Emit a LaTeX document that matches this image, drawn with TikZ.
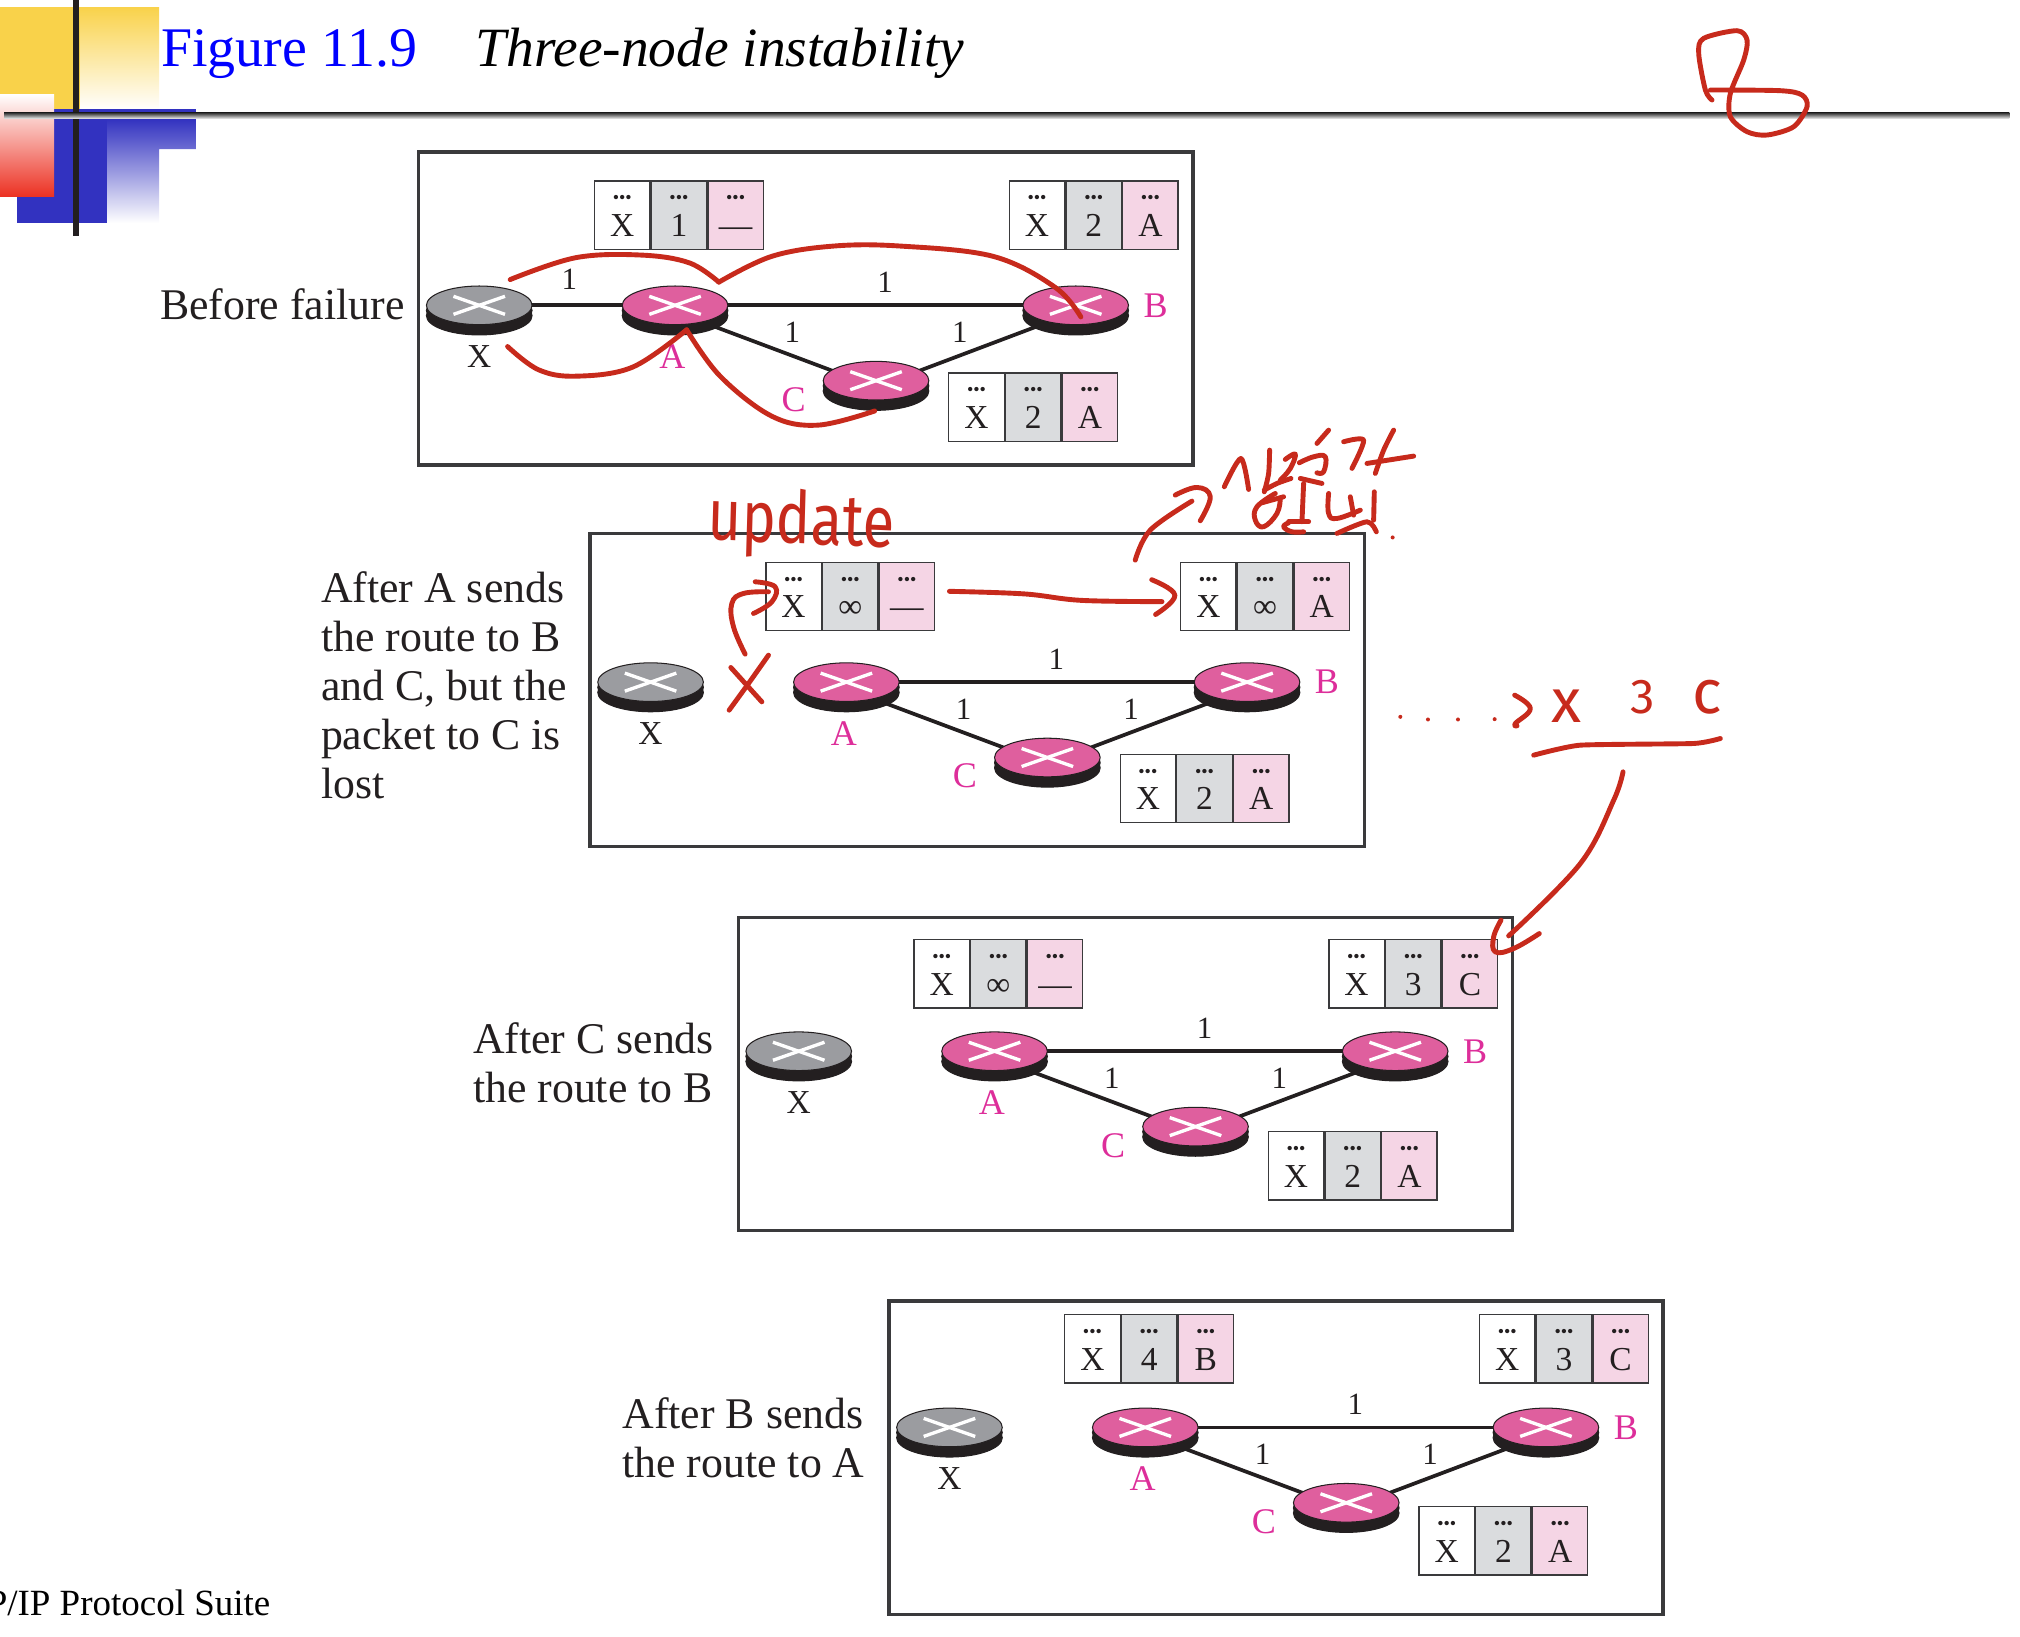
\documentclass[tikz,border=0pt]{standalone}
\usepackage{fontspec}
\setmainfont{Liberation Serif}
\newfontfamily\handfont{Fira Sans}
\usetikzlibrary{positioning, calc, shapes.geometric, shadows, backgrounds}
\definecolor{fig-blue}{HTML}{0000FF}
\definecolor{fig-dark}{HTML}{231F20}
\definecolor{fig-line}{HTML}{3A3A3C}
\definecolor{fig-pink}{HTML}{DF5F9E}
\definecolor{fig-magenta}{HTML}{DD2E9A}
\definecolor{fig-gray}{HTML}{9B9CA0}
\definecolor{cell-gray}{HTML}{DADCDE}
\definecolor{cell-pink}{HTML}{F5D5E5}
\definecolor{deco-yellow}{HTML}{F9D24A}
\definecolor{deco-blue}{HTML}{3232C0}
\definecolor{deco-red}{HTML}{EC3223}
\definecolor{pen-red}{HTML}{C72A1C}
% one routing table: name, x, y, cost, next hop
\newcommand{\rtable}[5]{%
    \node[cell, fill=white, anchor=north west] (#1-dest) at (#2, #3) {X};
    \node[cell, fill=cell-gray, right=0pt of #1-dest] (#1-cost) {#4};
    \node[cell, fill=cell-pink, right=0pt of #1-cost] (#1-hop) {#5};
}

\begin{document}
\begin{tikzpicture}[
    x=1pt, y=-1pt,
    panel/.style={draw=fig-line, line width=2.6, minimum width=601, minimum height=243, anchor=north west},
    router/.style={ellipse, draw=fig-dark, line width=0.8, minimum width=82, minimum height=30, inner sep=0,
                   general shadow={shadow xshift=0pt, shadow yshift=-8pt, fill=fig-dark, draw=fig-dark},
                   general shadow={shadow xshift=0pt, shadow yshift=-4pt, fill=fig-dark, draw=fig-dark},
                   path picture={
                       \draw[white, line width=2.6] (path picture bounding box.center) ++(-20,-7) -- ++(40,14);
                       \draw[white, line width=2.6] (path picture bounding box.center) ++(-20,7) -- ++(40,-14);
                   }},
    link/.style={draw=fig-dark, line width=2.9},
    cell/.style={draw=fig-line, line width=1, minimum width=43, minimum height=53, inner sep=0,
                 text height=43, text depth=10, text=fig-dark, font=\fontsize{26}{30}\selectfont,
                 label={[celldots]north:•••}},
    celldots/.style={anchor=center, yshift=-15, inner sep=0, text=fig-dark, font=\fontsize{14}{14}\selectfont},
    lbl/.style={text=fig-dark, inner sep=0, font=\fontsize{26}{30}\selectfont},
    cost/.style={text=fig-dark, inner sep=0, font=\fontsize{24}{28}\selectfont},
    rname/.style={text=fig-magenta, inner sep=0, font=\fontsize{28}{30}\selectfont},
    caption/.style={anchor=west, align=left, inner sep=0, text=fig-dark, font=\fontsize{34}{38}\selectfont},
    hand/.style={draw=pen-red, line width=3.8, line cap=round, line join=round},
    handtext/.style={text=pen-red, inner sep=0, font=\handfont},
]
    \useasboundingbox (0,0) rectangle (1568,1270);

    % Corner decoration and rule
    \begin{scope}[scale=0.7764]
        \fill[deco-yellow] (0,7) rectangle (80,110);
        \shade[top color=deco-yellow, bottom color=white] (80,7) rectangle (159,110);
        \fill[deco-blue] (17,109) rectangle (107,223);
        \fill[deco-blue] (54,109) rectangle (196,119);
        \shade[top color=deco-blue, bottom color=white] (107,119) -- (196,119) -- (196,149)
            -- (159,149) -- (159,223) -- (107,223) -- cycle;
        \shade[top color=white, bottom color=deco-red] (0,94) rectangle (54,196);
        \fill[fig-dark] (72.5,0) rectangle (79,236);
        \fill[white] (4,115) rectangle (196,119);
        \shade[top color=black!90, bottom color=black!15] (4,112) rectangle (2009,118);
    \end{scope}

    % Title
    \node[anchor=base west, inner sep=0, text=fig-blue, font=\fontsize{43.4}{46}\selectfont] (fignum) at (125,52) {Figure 11.9};
    \node[anchor=base west, inner sep=0, text=black, font=\fontsize{43}{46}\selectfont\itshape] (figname) at (369,52) {Three-node instability};

    % Captions
    \node[caption] (capa) at (124,236) {Before failure};
    \node[caption] (capb) at (249,532) {After A sends\\the route to B\\and C, but the\\packet to C is\\lost};
    \node[caption] (capc) at (367,825) {After C sends\\the route to B};
    \node[caption] (capd) at (483,1116) {After B sends\\the route to A};
    \node[anchor=base east, inner sep=0, text=black, font=\fontsize{28.7}{30}\selectfont] (footer) at (210,1254) {P/IP Protocol Suite};

    % The four networks
    \foreach \pn/\px/\py/\ry/\ty/\ca/\ha/\cb/\hb in {
        one/324/117/120/23/1/—/2/A,
        two/457/413/116.5/23/∞/—/∞/A,
        three/572/711/105/18/∞/—/3/C,
        four/689/1009/99/11/4/B/3/C} {
        \begin{scope}[shift={(\px,\py)}, name prefix=\pn-]
            \node[panel] (box) at (-0.3,-0.3) {};

            % Routers
            \node[router, fill=fig-gray] (X) at (48,\ry) {};
            \node[router, fill=fig-pink] (A) at (200,\ry) {};
            \node[router, fill=fig-pink] (B) at (511,\ry) {};
            \node[router, fill=fig-pink] (C) at (356,\ry+58.5) {};

            % Router names
            \node[lbl] (Xname) at (48,\ry+40) {X};
            \node[rname] (Aname) at (198,\ry+40) {A};
            \node[rname] (Bname) at (573,\ry) {B};
            \node[rname] (Cname) at (292,\ry+73) {C};

            % Links
            \begin{scope}[on background layer]
                \draw[link] (A.center) -- (B.center);
                \draw[link] ([yshift=-5pt]A.center) -- ([yshift=-5pt]C.center);
                \draw[link] ([yshift=-5pt]C.center) -- ([yshift=-5pt]B.center);
            \end{scope}
            \node[cost] (ab) at (363,\ry-18) {1};
            \node[cost] (ac) at (291,\ry+21) {1};
            \node[cost] (cb) at (421,\ry+21) {1};

            % Tables
            \rtable{ta}{137}{\ty}{\ca}{\ha}
            \rtable{tb}{459}{\ty}{\cb}{\hb}
            \rtable{tc}{412}{\ty+149}{2}{A}
        \end{scope}
    }

    % Link to X exists only before the failure
    \begin{scope}[on background layer]
        \draw[link] (one-X.center) -- (one-A.center);
    \end{scope}
    \node[cost] (xa) at (442,217) {1};

    % Pen marks on the first network
    \draw[hand] plot[smooth, tension=0.6] coordinates {(396,217) (447,200) (498,198) (535,204) (558,219)};
    \draw[hand] plot[smooth, tension=0.6] coordinates {(558,219) (599,199) (647,191) (699,191) (771,199) (819,223) (839,246)};
    \draw[hand] plot[smooth, tension=0.6] coordinates {(394,269) (418,287) (447,292) (491,285) (533,256)};
    \draw[hand] plot[smooth, tension=0.6] coordinates {(533,256) (559,292) (599,323) (635,330) (679,319)};

    % Pen marks on the second network
    \node[handtext, font=\handfont\fontsize{45}{45}\selectfont, yscale=1.25, rotate=-2] (update) at (622,407) {update};
    \begin{scope}[shift={(527.95,372.67)}, scale=0.2588]
        \draw[hand] plot[smooth, tension=0.7] coordinates {(195,522) (160,440) (155,370) (190,340) (265,335)};
        \draw[hand] plot[smooth, tension=0.7] coordinates {(225,305) (285,320) (275,365) (220,400)};
        \draw[hand] (152,562) -- (245,665);
        \draw[hand] plot[smooth] coordinates {(265,525) (205,610) (147,690)};
    \end{scope}
    \draw[hand] plot[smooth, tension=0.6] coordinates {(737,459) (795,461) (839,466) (902,467)};
    \draw[hand] plot[smooth, tension=0.7] coordinates {(894,450) (912,462) (897,477)};

    % Pen note above the second network
    \begin{scope}[shift={(869.57,333.85)}, scale=0.2588]
        \draw[hand] plot[smooth, tension=0.6] coordinates {(45,390) (90,300) (215,213)};
        \draw[hand] plot[smooth, tension=0.7] coordinates {(165,195) (230,172) (270,200) (240,272)};
        \draw[hand] plot[smooth, tension=0.5] coordinates {(312,170) (362,85) (385,178)};
        \draw[hand] plot[smooth, tension=0.5] coordinates {(448,60) (445,130) (432,185)};
        \draw[hand] plot[smooth, tension=0.7] coordinates {(495,88) (525,72) (510,115) (480,150)};
        \draw[hand] plot[smooth, tension=0.5] coordinates {(512,145) (470,160) (432,180)};
        \draw[hand] plot[smooth, tension=0.7] coordinates {(537,98) (580,80) (615,80) (610,125) (590,128)};
        \draw[hand] (590,40) -- (625,0);
        \draw[hand] plot[smooth, tension=0.5] coordinates {(670,35) (730,30) (695,115)};
        \draw[hand] plot[smooth, tension=0.5] coordinates {(820,0) (790,60) (765,130)};
        \draw[hand] (740,100) -- (880,78);
        \draw[hand] plot[smooth, tension=0.7] coordinates {(425,218) (490,200)};
        \draw[hand] plot[smooth, tension=0.7] coordinates {(465,190) (410,230) (405,270) (430,290) (470,250) (480,205)};
        \draw[hand] (540,145) -- (605,160);
        \draw[hand] (550,160) -- (545,275);
        \draw[hand] (505,275) -- (565,275);
        \draw[hand] plot[smooth, tension=0.7] coordinates {(505,278) (490,290) (515,305) (550,305)};
        \draw[hand] plot[smooth, tension=0.7] coordinates {(625,190) (625,250) (650,265) (720,240)};
        \draw[hand] (690,200) -- (700,255);
        \draw[hand] (762,185) -- (760,270);
        \draw[hand] plot[smooth, tension=0.5] coordinates {(650,310) (740,275) (768,305)};
        \fill[pen-red] (817,322) circle (6);
    \end{scope}

    % Pen note beside the second network
    \begin{scope}[shift={(1071.43,512.42)}, scale=0.2588]
        \foreach \dx/\dy in {60/170, 143/178, 233/178, 343/177} {
            \fill[pen-red] (\dx,\dy) circle (6);
        }
        \draw[hand] plot[smooth, tension=0.7] coordinates {(403,105) (450,145) (405,190) (410,197)};
        \draw[hand] plot[smooth, tension=0.3] coordinates {(460,285) (600,255) (940,250) (1020,235)};
        \draw[hand] plot[smooth, tension=0.6] coordinates {(728,335) (700,420) (600,610) (385,827)};
        \draw[hand] plot[smooth, tension=0.7] coordinates {(362,780) (340,830) (345,875) (400,865) (477,820)};
    \end{scope}
    \node[handtext, font=\handfont\fontsize{48}{48}\selectfont] (notex) at (1216,548) {x};
    \node[handtext, font=\handfont\fontsize{38}{38}\selectfont] (note3) at (1275,541) {3};
    \node[handtext, font=\handfont\fontsize{48}{48}\selectfont] (notec) at (1325,541) {c};

    % Page number mark
    \begin{scope}[shift={(1304.35,7.76)}, scale=0.2588]
        \draw[hand] plot[smooth, tension=0.5] coordinates {(95,270) (75,240) (55,130) (70,85) (170,62) (200,90) (190,150) (150,250) (150,320) (200,365) (260,375) (340,350) (380,290) (365,255) (300,242) (90,240)};
    \end{scope}
\end{tikzpicture}
\end{document}
